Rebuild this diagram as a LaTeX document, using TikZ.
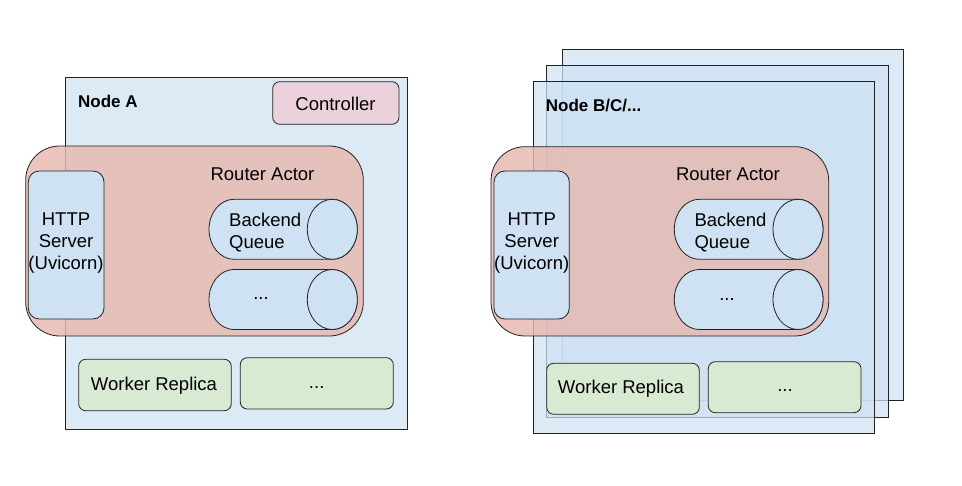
\documentclass[tikz,border=0pt]{standalone}
\usepackage{fontspec}
\setmainfont{Liberation Sans}
\usetikzlibrary{fit}
\definecolor{nodeblue}{HTML}{CFE2F3}
\definecolor{routerred}{HTML}{E6B8AF}
\definecolor{workergreen}{HTML}{D9EAD3}
\definecolor{ctrlpink}{HTML}{EAD1DC}
\definecolor{edge}{HTML}{222222}
\tikzset{
  base/.style={draw=edge, line width=0.8pt, inner sep=0pt},
  hostbox/.style={base, fill=nodeblue, fill opacity=0.72},
  routerbox/.style={base, fill=routerred, fill opacity=0.82, rounded corners=34pt},
  httpbox/.style={base, fill=nodeblue, rounded corners=11pt},
  workerbox/.style={base, fill=workergreen, rounded corners=7pt},
  ctrlbox/.style={base, fill=ctrlpink, rounded corners=7pt},
  queuebody/.style={draw=edge, line width=0.8pt, fill=nodeblue},
  txt/.style={font=\fontsize{18.5}{22}\selectfont, text=black, inner sep=0pt, align=center},
  bold/.style={font=\fontsize{17}{20}\selectfont\bfseries, text=black, inner sep=0pt},
}
% queue cylinder: name, x0, y0, x1, y1 (pixel coords, y down)
\newcommand\drawqueue[5]{%
  \node[fit={(#2,-#3) (#4,-#5)}, inner sep=0pt] (#1) {};
  \filldraw[queuebody] ({#2+25},-#3) -- ({#4-25},-#3)
     arc[start angle=90, end angle=-90, x radius=25pt, y radius=30pt]
     -- ({#2+25},-#5)
     arc[start angle=270, end angle=90, x radius=25pt, y radius=30pt] -- cycle;
  \draw[queuebody] ({#4-25},{-(#3+#5)/2}) ellipse[x radius=25pt, y radius=30pt];
}
\begin{document}
\begin{tikzpicture}[x=1pt,y=1pt]
\useasboundingbox (0,0) rectangle (962,-486);
\fill[white] (0,0) rectangle (962,-486);

% ---------------- Node A ----------------
\node[hostbox, fit={(65,-77) (407,-429)}] (nodeA) {};
\node[bold, anchor=base west] (nodeAlabel) at (78,-108) {Node A};
\node[ctrlbox, fit={(272.7,-81.7) (399,-124.3)}] (ctrl) {};
\node[txt] (ctrltxt) at (335.5,-104) {Controller};

\node[routerbox, fit={(25.7,-146) (363.3,-336)}] (routerA) {};
\node[txt] (routerAtxt) at (262.5,-174) {Router Actor};
\node[httpbox, fit={(28.3,-171) (104,-319)}] (httpA) {};
\node[txt] (httpAtxt) at (66,-243) {HTTP\\Server\\(Uvicorn)};
\drawqueue{qA1}{209}{199.3}{357.3}{259.3}
\node[txt, align=left, anchor=west] (qA1txt) at (229,-233) {Backend\\Queue};
\drawqueue{qA2}{209}{269.5}{357.3}{329.5}
\node[txt] (qA2txt) at (261,-299) {...};

\node[workerbox, fit={(78.7,-359.3) (231.3,-410.7)}] (wA1) {};
\node[txt] (wA1txt) at (154,-386) {Worker Replica};
\node[workerbox, fit={(240.3,-357.7) (393.3,-409)}] (wA2) {};
\node[txt] (wA2txt) at (316.7,-388) {...};

% ---------------- Node B/C/... ----------------
\node[hostbox, fit={(562.3,-49.3) (903,-400.5)}] (nodeD) {};
\node[hostbox, fit={(546.3,-65.3) (888.3,-417.3)}] (nodeC) {};
\node[hostbox, fit={(533,-81.3) (874.3,-433.3)}] (nodeB) {};
\node[bold, anchor=base west] (nodeBlabel) at (545.7,-111.7) {Node B/C/...};

\node[routerbox, fit={(491,-146.7) (828.7,-336)}] (routerB) {};
\node[txt] (routerBtxt) at (728,-174.3) {Router Actor};
\node[httpbox, fit={(494,-171) (569.3,-319)}] (httpB) {};
\node[txt] (httpBtxt) at (531.7,-243) {HTTP\\Server\\(Uvicorn)};
\drawqueue{qB1}{674.3}{199.3}{823}{259.3}
\node[txt, align=left, anchor=west] (qB1txt) at (694.3,-233) {Backend\\Queue};
\drawqueue{qB2}{674.3}{269.5}{823}{329.5}
\node[txt] (qB2txt) at (727,-299.3) {...};

\node[workerbox, fit={(546.7,-363.3) (699.3,-414.3)}] (wB1) {};
\node[txt] (wB1txt) at (621,-389) {Worker Replica};
\node[workerbox, fit={(708.3,-361.7) (861,-412.7)}] (wB2) {};
\node[txt] (wB2txt) at (785,-390.7) {...};
\end{tikzpicture}
\end{document}
